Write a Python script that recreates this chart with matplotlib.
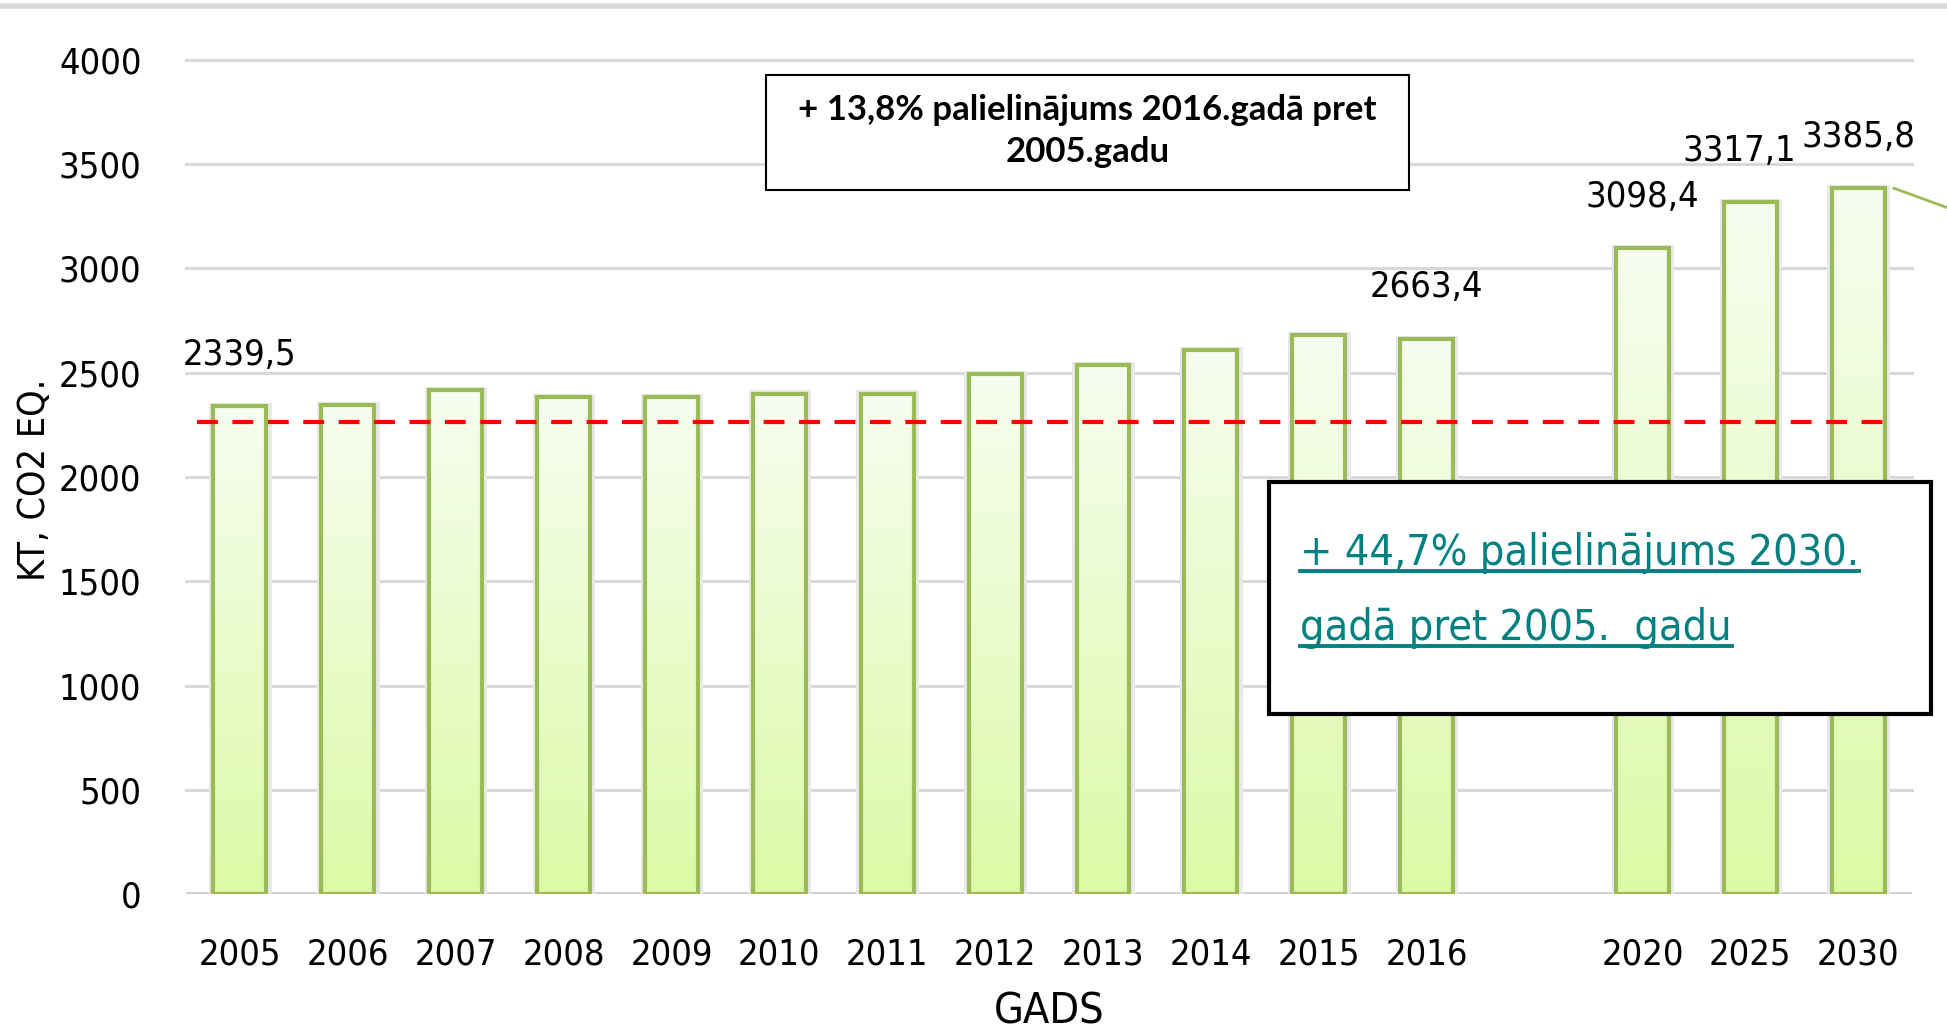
import numpy as np
import matplotlib
matplotlib.use("Agg")
import matplotlib.pyplot as plt
from matplotlib import font_manager
from matplotlib.patches import Rectangle
from matplotlib.lines import Line2D
from matplotlib.colors import LinearSegmentedColormap

# data
years = ["2005", "2006", "2007", "2008", "2009", "2010", "2011", "2012",
         "2013", "2014", "2015", "2016", "2020", "2025", "2030"]
values = [2339.5, 2345, 2418, 2385, 2385, 2400, 2400, 2495,
          2536, 2607, 2680, 2663.4, 3098.4, 3317.1, 3385.8]
labels = ["2339,5", None, None, None, None, None, None, None,
          None, None, None, "2663,4", "3098,4", "3317,1", "3385,8"]
baseline_value = 2262

# fonts
names = {f.name for f in font_manager.fontManager.ttflist}
if "Liberation Sans Narrow" in names:
    narrow = dict(family="Liberation Sans Narrow")
else:
    narrow = dict(family="DejaVu Sans", stretch="condensed")

# positions: one empty slot between 2016 and the projections
pos = np.array([i if int(y) <= 2016 else i + 1 for i, y in enumerate(years)], dtype=float)

fig = plt.figure(figsize=(19.47, 10.32), dpi=100)
ax = fig.add_axes([0.0955, 0.1337, 0.8866, 0.8082])

for s in ax.spines.values():
    s.set_visible(False)

for yv in range(500, 4001, 500):
    ax.axhline(yv, color="#d9d9d9", lw=2.2, zorder=0, clip_on=False)
ax.axhline(0, color="#d0d0d0", lw=3.5, zorder=0)

# bars with gradient fill
w = 0.49
grad = np.linspace(0, 1, 256).reshape(-1, 1)
cmap = LinearSegmentedColormap.from_list("g", ["#dcfaa6", "#f7fdf0"])
bars = ax.bar(pos, values, width=w, facecolor="none", edgecolor="#9bbb59",
              linewidth=3, zorder=3)
for b in bars:
    x0, h = b.get_x(), b.get_height()
    ax.add_patch(Rectangle((x0 - 0.04, 0), w + 0.09, h + 15,
                           facecolor="#e9e9e9", edgecolor="none", zorder=1))
    im = ax.imshow(grad, extent=[x0, x0 + w, 0, h], origin="lower",
                   cmap=cmap, aspect="auto", zorder=2)
    im.set_clip_path(b)
ax.set_xlim(-0.5, 15.5)
ax.set_ylim(0, 4000)

# reference line
ax.plot([-0.4, 15.3], [baseline_value, baseline_value], color="#ff0000",
        lw=3, dashes=(5, 3.5), zorder=4)

# leader line from 2030 bar
ax.plot([15.33, 16.1], [3385, 3240], color="#9bbb59", lw=2, clip_on=False, zorder=4)

# data labels
for p, v, lab in zip(pos, values, labels):
    if lab is None:
        continue
    dx = -8 if lab == "3317,1" else 0
    ax.annotate(lab, (p, v), xytext=(dx, 37), textcoords="offset points",
                ha="center", va="center", fontsize=26, zorder=5, **narrow)

ax.set_xticks(pos)
ax.set_xticklabels(years, fontsize=26, **narrow)
ax.set_yticks(range(0, 4001, 500))
ax.set_yticklabels([str(v) for v in range(0, 4001, 500)], fontsize=26, **narrow)
ax.tick_params(axis="both", length=0)
ax.tick_params(axis="x", pad=31)
ax.tick_params(axis="y", pad=32)
ax.set_xlabel("GADS", fontsize=31, labelpad=14, **narrow)
fig.text(0.018, 0.535, "KT, CO2 EQ.", rotation=90, ha="center", va="center",
         fontsize=27, **narrow)

# top border
fig.add_artist(Line2D([0, 1], [0.994, 0.994], color="#d9d9d9", lw=4))

# box 1
fig.add_artist(Rectangle((0.3934, 0.8159), 0.3303, 0.1114, transform=fig.transFigure,
                         facecolor="white", edgecolor="black", lw=1.5, zorder=6))
fig.text(0.5585, 0.873, "+ 13,8% palielinājums 2016.gadā pret\n2005.gadu",
         ha="center", va="center", fontsize=25, fontweight="bold", family="Lato",
         linespacing=1.4, zorder=7)

# box 2
fig.add_artist(Rectangle((0.6518, 0.3081), 0.340, 0.2248, transform=fig.transFigure,
                         facecolor="white", edgecolor="black", lw=3, zorder=6))
teal = "#008080"
t1 = fig.text(0.6677, 0.4525, "+ 44,7% palielinājums 2030.", ha="left", va="baseline",
              fontsize=31, color=teal, zorder=7, **narrow)
t2 = fig.text(0.6677, 0.3798, "gadā pret 2005.  gadu", ha="left", va="baseline",
              fontsize=31, color=teal, zorder=7, **narrow)
fig.canvas.draw()
r = fig.canvas.get_renderer()
W = fig.bbox.width
for t, yb in [(t1, 0.4525), (t2, 0.3798)]:
    bb = t.get_window_extent(r)
    fig.add_artist(Line2D([bb.x0 / W, bb.x1 / W], [yb - 0.006, yb - 0.006],
                          color=teal, lw=2.8, zorder=7))

fig.savefig("out.png", dpi=100, facecolor="white")
